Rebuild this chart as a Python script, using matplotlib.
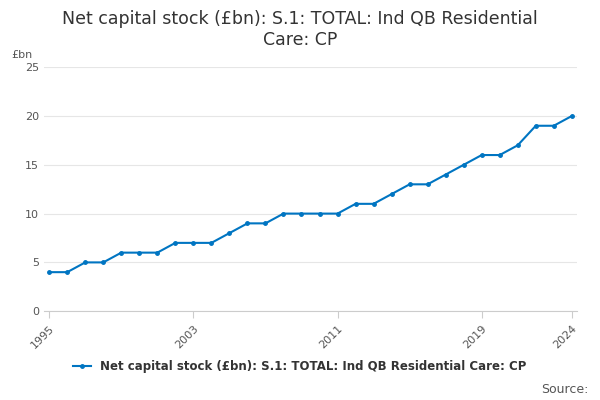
import matplotlib
matplotlib.use("Agg")
import matplotlib.pyplot as plt

years = list(range(1995, 2025))
values = [4,4,5,5,6,6,6,7,7,7,8,9,9,10,10,10,10,11,11,12,13,13,14,15,16,16,17,19,19,20]
tick_years = [1995, 2003, 2011, 2019, 2024]
series_name = "Net capital stock (£bn): S.1: TOTAL: Ind QB Residential Care: CP"

fig = plt.figure(figsize=(6, 4), dpi=100)
ax = fig.add_axes([0.073, 0.222, 0.889, 0.61])
color = "#0075c2"
ax.plot(years, values, color=color, lw=1.5, marker="o", ms=2.5, label=series_name)
ax.set_xlim(1995 - 0.3, 2024 + 0.3)
ax.set_ylim(0, 25)
ax.set_yticks([0, 5, 10, 15, 20, 25])
ax.set_xticks(tick_years)
ax.set_xticklabels([str(y) for y in tick_years], rotation=45, ha="right", rotation_mode="anchor")
ax.tick_params(axis="both", labelsize=8, colors="#555555", length=0)
ax.tick_params(axis="x", length=5, color="#cccccc")
ax.grid(axis="y", color="#e6e6e6", lw=0.8)
for s in ["top", "right", "left"]:
    ax.spines[s].set_visible(False)
ax.spines["bottom"].set_color("#cccccc")
fig.text(0.5, 0.975, "Net capital stock (£bn): S.1: TOTAL: Ind QB Residential\nCare: CP",
         ha="center", va="top", fontsize=12.5, color="#333333", linespacing=1.2)
fig.text(0.018, 0.855, "£bn", fontsize=8, color="#555555")
fig.legend(loc="lower center", bbox_to_anchor=(0.5, 0.04), frameon=False,
           prop={"size": 8.5, "weight": "bold"}, labelcolor="#333333", handlelength=1.5)
fig.text(0.98, 0.01, "Source:", ha="right", va="bottom", fontsize=9, color="#555555")
fig.savefig("out.png")
